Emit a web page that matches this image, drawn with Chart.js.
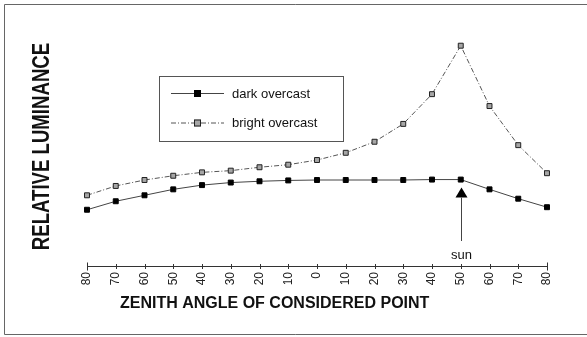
<!DOCTYPE html>
<html>
<head>
<meta charset="utf-8">
<script src="https://cdn.jsdelivr.net/npm/chart.js@4"></script>
<style>
  html, body { margin: 0; padding: 0; background: #fff; }
  #wrap { width: 587px; height: 337px; position: relative; }
</style>
</head>
<body>
<div id="wrap"><canvas id="ChartLuminance"></canvas></div>
<script>
var angleLabels = ["80","70","60","50","40","30","20","10","0","10","20","30","40","50","60","70","80"];
var darkOvercast = [0.65,0.75,0.82,0.89,0.94,0.97,0.985,0.995,1.0,1.0,1.0,1.0,1.005,1.005,0.89,0.78,0.68];
var brightOvercast = [0.82,0.93,1.0,1.05,1.09,1.11,1.15,1.18,1.235,1.32,1.45,1.66,2.01,2.58,1.87,1.41,1.08];
var sunIndex = 13;

var FONT = "'Liberation Sans', Arial, Helvetica, sans-serif";

// frame, axis line, titles, legend and sun arrow
var decorPlugin = {
    id: 'decor',
    afterDraw: function(chart) {
        var ctx = chart.ctx;
        var xs = chart.scales.x, ys = chart.scales.y;
        var axisY = chart.chartArea.bottom + 1;
        ctx.save();

        // outer frame
        ctx.strokeStyle = '#666';
        ctx.lineWidth = 1;
        ctx.beginPath();
        ctx.moveTo(587, 4.5); ctx.lineTo(4.5, 4.5); ctx.lineTo(4.5, 334.5); ctx.lineTo(587, 334.5);
        ctx.stroke();

        // x axis with crossing ticks
        ctx.strokeStyle = '#333';
        ctx.beginPath();
        var x0 = xs.getPixelForValue(0), x1 = xs.getPixelForValue(angleLabels.length - 1);
        ctx.moveTo(x0, axisY + 0.5); ctx.lineTo(x1, axisY + 0.5);
        for (var i = 0; i < angleLabels.length; i++) {
            var px = Math.round(xs.getPixelForValue(i)) + 0.5;
            var h = (i === 0 || i === angleLabels.length - 1) ? 4 : 2.5;
            ctx.moveTo(px, axisY + 0.5 - h); ctx.lineTo(px, axisY + 0.5 + h);
        }
        ctx.stroke();

        // sun arrow
        var sx = Math.round(xs.getPixelForValue(sunIndex)) + 0.5;
        var sy = ys.getPixelForValue(darkOvercast[sunIndex]);
        ctx.fillStyle = '#000';
        ctx.beginPath();
        ctx.moveTo(sx, sy + 8); ctx.lineTo(sx - 6, sy + 18); ctx.lineTo(sx + 6, sy + 18);
        ctx.closePath();
        ctx.fill();
        ctx.strokeStyle = '#444';
        ctx.beginPath();
        ctx.moveTo(sx, sy + 18); ctx.lineTo(sx, 241);
        ctx.stroke();
        ctx.fillStyle = '#111';
        ctx.font = '13px ' + FONT;
        ctx.textAlign = 'center';
        ctx.textBaseline = 'middle';
        ctx.fillText('sun', sx, 255);

        // x title
        ctx.font = 'bold 16px ' + FONT;
        ctx.textAlign = 'left';
        ctx.fillText('ZENITH ANGLE OF CONSIDERED POINT', 120, 304);

        // y title (stretched like the scan)
        ctx.save();
        ctx.translate(42, 146.5);
        ctx.rotate(-Math.PI / 2);
        ctx.scale(1, 1.3);
        ctx.font = 'bold 18.6px ' + FONT;
        ctx.textAlign = 'center';
        ctx.fillText('RELATIVE LUMINANCE', 0, 0);
        ctx.restore();

        // legend
        ctx.strokeStyle = '#555';
        ctx.strokeRect(159.5, 76.5, 184, 65);
        var entries = [
            {y: 93, ds: chart.data.datasets[0]},
            {y: 122.5, ds: chart.data.datasets[1]}
        ];
        entries.forEach(function(e) {
            ctx.strokeStyle = e.ds.borderColor;
            ctx.lineWidth = 1;
            ctx.setLineDash(e.ds.borderDash || []);
            ctx.beginPath();
            ctx.moveTo(171, e.y + 0.5); ctx.lineTo(224, e.y + 0.5);
            ctx.stroke();
            ctx.setLineDash([]);
            ctx.fillStyle = e.ds.pointBackgroundColor;
            ctx.fillRect(194, e.y - 3, 7, 7);
            ctx.strokeStyle = e.ds.pointBorderColor;
            ctx.strokeRect(194.5, e.y - 2.5, 6, 6);
            ctx.fillStyle = '#111';
            ctx.font = '13px ' + FONT;
            ctx.textAlign = 'left';
            ctx.textBaseline = 'middle';
            ctx.fillText(e.ds.label, 232, e.y + 1);
        });

        ctx.restore();
    }
};

var ctxL = document.getElementById("ChartLuminance").getContext('2d');
var lumChart = new Chart(ctxL, {
    type: 'line',
    data: {
        labels: angleLabels,
        datasets: [{
            label: "dark overcast",
            data: darkOvercast,
            borderColor: '#444',
            borderWidth: 1,
            pointStyle: 'rect',
            pointRadius: 3.5,
            pointBackgroundColor: '#000',
            pointBorderColor: '#000',
            pointBorderWidth: 1
        },
        {
            label: "bright overcast",
            data: brightOvercast,
            borderColor: '#555',
            borderWidth: 1,
            borderDash: [5, 2, 1, 2],
            pointStyle: 'rect',
            pointRadius: 3.5,
            pointBackgroundColor: '#a6a6a6',
            pointBorderColor: '#222',
            pointBorderWidth: 1
        }]
    },
    options: {
        responsive: true,
        maintainAspectRatio: false,
        animation: false,
        layout: { padding: { left: 87, right: 40, top: 10, bottom: 0 } },
        plugins: {
            legend: { display: false },
            tooltip: { enabled: false }
        },
        elements: { line: { tension: 0 } },
        scales: {
            x: {
                offset: false,
                grid: { display: false, drawTicks: false },
                border: { display: false },
                ticks: {
                    autoSkip: false,
                    minRotation: 90,
                    maxRotation: 90,
                    padding: 7,
                    color: '#222',
                    font: { family: FONT, size: 12 }
                },
                afterFit: function(scale) { scale.height = 72; }
            },
            y: {
                display: false,
                min: 0,
                max: 3
            }
        }
    },
    plugins: [decorPlugin]
});
</script>
</body>
</html>
